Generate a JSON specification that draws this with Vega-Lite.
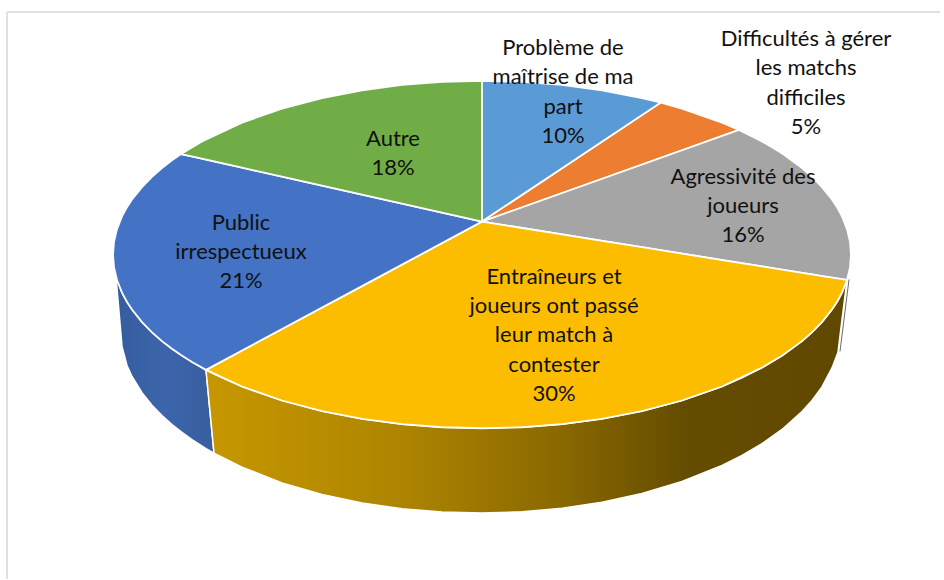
{
"$schema":"https://vega.github.io/schema/vega-lite/v6.json",
"width":944,"height":580,"padding":0,"autosize":{"type":"fit","contains":"padding"},
"background":"white","view":{"stroke":null},
"datasets":{
"walls":[
{"s":"yellow","x":-276,"top":-115.5,"low":-115.5},{"s":"yellow","x":-268,"top":-119.6,"low":-199},{"s":"yellow","x":-240,"top":-132.2,"low":-213},{"s":"yellow","x":-200,"top":-146.2,"low":-228.7},{"s":"yellow","x":-160,"top":-156.8,"low":-240.3},{"s":"yellow","x":-120,"top":-164.5,"low":-248.8},{"s":"yellow","x":-80,"top":-169.9,"low":-254.6},{"s":"yellow","x":-40,"top":-173,"low":-258},{"s":"yellow","x":0,"top":-174,"low":-259},{"s":"yellow","x":40,"top":-173,"low":-257.7},{"s":"yellow","x":80,"top":-169.9,"low":-254.2},{"s":"yellow","x":120,"top":-164.5,"low":-248.1},{"s":"yellow","x":160,"top":-156.8,"low":-239.3},{"s":"yellow","x":200,"top":-146.2,"low":-227.3},{"s":"yellow","x":240,"top":-132.2,"low":-211.2},{"s":"yellow","x":260,"top":-123.5,"low":-201.2},{"s":"yellow","x":280,"top":-113.3,"low":-189.4},{"s":"yellow","x":300,"top":-101.3,"low":-175.2},{"s":"yellow","x":320,"top":-86.7,"low":-157.3},{"s":"yellow","x":330,"top":-77.9,"low":-146.1},{"s":"yellow","x":340,"top":-67.6,"low":-132.5},{"s":"yellow","x":350,"top":-55.1,"low":-113.6},{"s":"yellow","x":356,"top":-45.8,"low":-98},{"s":"yellow","x":360,"top":-38.2,"low":-65},{"s":"yellow","x":365,"top":-25.5,"low":-25.5},
{"s":"blue","x":-366,"top":-22,"low":-22},{"s":"blue","x":-360,"top":-38.2,"low":-92},{"s":"blue","x":-355,"top":-47.5,"low":-111.1},{"s":"blue","x":-350,"top":-55.1,"low":-122.1},{"s":"blue","x":-340,"top":-67.6,"low":-138.4},{"s":"blue","x":-330,"top":-77.9,"low":-150.9},{"s":"blue","x":-320,"top":-86.7,"low":-161.3},{"s":"blue","x":-310,"top":-94.4,"low":-170.3},{"s":"blue","x":-300,"top":-101.3,"low":-178.2},{"s":"blue","x":-290,"top":-107.6,"low":-185.4},{"s":"blue","x":-276,"top":-115.5,"low":-194.4},{"s":"blue","x":-268,"top":-199,"low":-199}
],
"tops":[
{"s":"Problème","x":0,"top":174,"low":33},{"s":"Problème","x":40,"top":173,"low":59.6},{"s":"Problème","x":80,"top":169.9,"low":86.3},{"s":"Problème","x":120,"top":164.5,"low":112.9},{"s":"Problème","x":160,"top":156.8,"low":139.5},{"s":"Problème","x":179,"top":152.2,"low":152.2},
{"s":"Difficultés","x":0,"top":33,"low":33},{"s":"Difficultés","x":179,"top":152.2,"low":97},{"s":"Difficultés","x":200,"top":146.2,"low":104.5},{"s":"Difficultés","x":240,"top":132.2,"low":118.8},{"s":"Difficultés","x":257,"top":124.9,"low":124.9},
{"s":"Agressivité","x":0,"top":33,"low":33},{"s":"Agressivité","x":257,"top":124.9,"low":-8.2},{"s":"Agressivité","x":280,"top":113.3,"low":-11.9},{"s":"Agressivité","x":290,"top":107.6,"low":-13.5},{"s":"Agressivité","x":301,"top":100.7,"low":-15.3},{"s":"Agressivité","x":320,"top":86.7,"low":-18.3},{"s":"Agressivité","x":330,"top":77.9,"low":-19.9},{"s":"Agressivité","x":340,"top":67.6,"low":-21.5},{"s":"Agressivité","x":350,"top":55.1,"low":-23.1},{"s":"Agressivité","x":355,"top":47.5,"low":-23.9},{"s":"Agressivité","x":360,"top":38.2,"low":-24.7},{"s":"Agressivité","x":365,"top":25.5,"low":-25.5},{"s":"Agressivité","x":368,"top":12.8,"low":-12.8},{"s":"Agressivité","x":369,"top":0,"low":0},
{"s":"Entraîneurs","x":-276,"top":-115.5,"low":-115.5},{"s":"Entraîneurs","x":-240,"top":-96.1,"low":-132.2},{"s":"Entraîneurs","x":-200,"top":-74.6,"low":-146.2},{"s":"Entraîneurs","x":-160,"top":-53.1,"low":-156.8},{"s":"Entraîneurs","x":-120,"top":-31.6,"low":-164.5},{"s":"Entraîneurs","x":-80,"top":-10,"low":-169.9},{"s":"Entraîneurs","x":-40,"top":11.5,"low":-173},{"s":"Entraîneurs","x":0,"top":33,"low":-174},{"s":"Entraîneurs","x":40,"top":26.6,"low":-173},{"s":"Entraîneurs","x":80,"top":20.2,"low":-169.9},{"s":"Entraîneurs","x":120,"top":13.8,"low":-164.5},{"s":"Entraîneurs","x":160,"top":7.4,"low":-156.8},{"s":"Entraîneurs","x":200,"top":1,"low":-146.2},{"s":"Entraîneurs","x":240,"top":-5.5,"low":-132.2},{"s":"Entraîneurs","x":280,"top":-11.9,"low":-113.3},{"s":"Entraîneurs","x":300,"top":-15.1,"low":-101.3},{"s":"Entraîneurs","x":320,"top":-18.3,"low":-86.7},{"s":"Entraîneurs","x":330,"top":-19.9,"low":-77.9},{"s":"Entraîneurs","x":340,"top":-21.5,"low":-67.6},{"s":"Entraîneurs","x":350,"top":-23.1,"low":-55.1},{"s":"Entraîneurs","x":355,"top":-23.9,"low":-47.5},{"s":"Entraîneurs","x":360,"top":-24.7,"low":-38.2},{"s":"Entraîneurs","x":365,"top":-25.5,"low":-25.5},
{"s":"Public","x":-369,"top":0,"low":0},{"s":"Public","x":-368,"top":12.8,"low":-12.8},{"s":"Public","x":-365,"top":25.5,"low":-25.5},{"s":"Public","x":-360,"top":38.2,"low":-38.2},{"s":"Public","x":-355,"top":47.5,"low":-47.5},{"s":"Public","x":-350,"top":55.1,"low":-55.1},{"s":"Public","x":-340,"top":67.6,"low":-67.6},{"s":"Public","x":-330,"top":77.9,"low":-77.9},{"s":"Public","x":-320,"top":86.7,"low":-86.7},{"s":"Public","x":-310,"top":94.4,"low":-94.4},{"s":"Public","x":-301,"top":100.7,"low":-100.7},{"s":"Public","x":-290,"top":98.3,"low":-107.6},{"s":"Public","x":-276,"top":95.1,"low":-115.5},{"s":"Public","x":-240,"top":87,"low":-96.1},{"s":"Public","x":-200,"top":78,"low":-74.6},{"s":"Public","x":-120,"top":60,"low":-31.6},{"s":"Public","x":0,"top":33,"low":33},
{"s":"Autre","x":-301,"top":100.7,"low":100.7},{"s":"Autre","x":-280,"top":113.3,"low":96},{"s":"Autre","x":-240,"top":132.2,"low":87},{"s":"Autre","x":-200,"top":146.2,"low":78},{"s":"Autre","x":-160,"top":156.8,"low":69},{"s":"Autre","x":-120,"top":164.5,"low":60},{"s":"Autre","x":-80,"top":169.9,"low":51},{"s":"Autre","x":-40,"top":173,"low":42},{"s":"Autre","x":0,"top":174,"low":33}
],
"labels":[
{"t":"Problème de\nmaîtrise de ma\npart\n10%","x":81,"y":207},
{"t":"Difficultés à gérer\nles matchs\ndifficiles\n5%","x":324,"y":216},
{"t":"Agressivité des\njoueurs\n16%","x":261,"y":78},
{"t":"Entraîneurs et\njoueurs ont passé\nleur match à\ncontester\n30%","x":72,"y":-22},
{"t":"Public\nirrespectueux\n21%","x":-241,"y":32},
{"t":"Autre\n18%","x":-89,"y":116}
],
"frame":[
{"x":-475,"x2":-475,"y":243,"y2":-325},
{"x":-475,"x2":458,"y":243,"y2":243}
],
"sliver":[{"x":367,"x2":358,"y":-25,"y2":-97}]
},
"encoding":{
"x":{"field":"x","type":"quantitative","scale":{"domain":[-482,462],"nice":false,"zero":false},"axis":null},
"y":{"field":"top","type":"quantitative","scale":{"domain":[-325,255],"nice":false,"zero":false},"axis":null}
},
"layer":[
{"data":{"name":"frame"},"mark":{"type":"rule","stroke":"#e0e0e0","strokeWidth":2},"encoding":{"x":{"field":"x","type":"quantitative"},"x2":{"field":"x2"},"y":{"field":"y","type":"quantitative"},"y2":{"field":"y2"}}},
{"data":{"name":"sliver"},"mark":{"type":"rule","stroke":"#6b6b6b","strokeWidth":1},"encoding":{"x":{"field":"x","type":"quantitative"},"x2":{"field":"x2"},"y":{"field":"y","type":"quantitative"},"y2":{"field":"y2"}}},
{"data":{"name":"walls"},"transform":[{"filter":"datum.s==='blue'"}],
 "mark":{"type":"area","stroke":"white","strokeWidth":1.5,"fill":{"gradient":"linear","x1":0,"y1":0,"x2":1,"y2":0,"stops":[{"offset":0,"color":"#355c9e"},{"offset":0.5,"color":"#3c65ab"},{"offset":1,"color":"#385e9f"}]}},
 "encoding":{"y2":{"field":"low"}}},
{"data":{"name":"walls"},"transform":[{"filter":"datum.s==='yellow'"}],
 "mark":{"type":"area","stroke":"white","strokeWidth":1.5,"fill":{"gradient":"linear","x1":0,"y1":0,"x2":1,"y2":0,"stops":[{"offset":0,"color":"#c69700"},{"offset":0.3,"color":"#ae8500"},{"offset":0.55,"color":"#8a6900"},{"offset":0.75,"color":"#644c00"},{"offset":1,"color":"#604800"}]}},
 "encoding":{"y2":{"field":"low"}}},
{"data":{"name":"tops"},
 "mark":{"type":"area","stroke":"white","strokeWidth":1.8},
 "encoding":{"y2":{"field":"low"},"color":{"field":"s","type":"nominal","legend":null,"scale":{"domain":["Problème","Difficultés","Agressivité","Entraîneurs","Public","Autre"],"range":["#5b9bd5","#ed7d31","#a5a5a5","#fcbd00","#4472c4","#70ad47"]}}}},
{"data":{"name":"labels"},
 "mark":{"type":"text","font":"Lato","fontSize":22,"lineHeight":29.4,"lineBreak":"\n","align":"center","baseline":"middle","color":"#111111"},
 "encoding":{"y":{"field":"y","type":"quantitative"},"text":{"field":"t","type":"nominal"}}}
]
}
